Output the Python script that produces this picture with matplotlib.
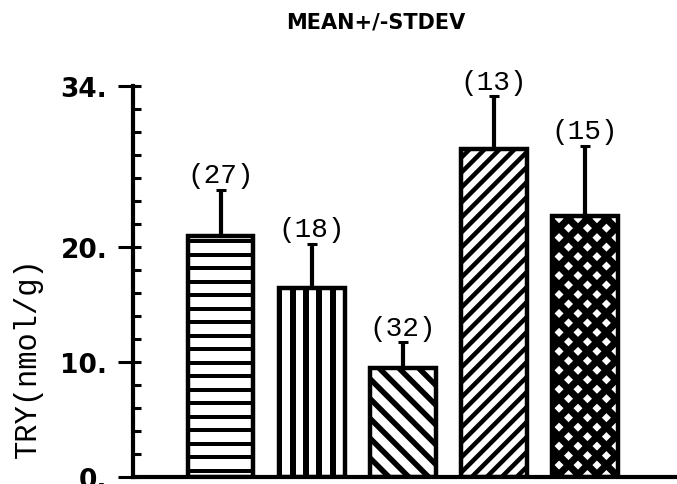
import numpy as np
import matplotlib
matplotlib.use("Agg")
import matplotlib.pyplot as plt
from matplotlib.collections import LineCollection
from matplotlib.transforms import IdentityTransform

# Group means, standard deviations and sample sizes
means = [21.0, 16.4, 9.5, 28.5, 22.7]
stdevs = [4.0, 3.9, 2.2, 4.6, 6.1]
counts = [27, 18, 32, 13, 15]

y_ticks = [0, 10, 20, 34]
y_tick_labels = ["0.", "10.", "20.", "34."]

DPI = 100
W, H = 677, 485

fig = plt.figure(figsize=(W / DPI, H / DPI), dpi=DPI)
ax = fig.add_axes([133 / W, 7 / H, 1 - 133 / W, (478 - 87) / H])

x = np.arange(len(means))
ax.set_xlim(-0.9615, 5.016)
ax.set_ylim(0, 34)

bars = ax.bar(x, means, width=0.725, facecolor="none", edgecolor="black",
              linewidth=3.2, zorder=3)

# Hatch styles per bar: (angles in degrees, spacing in px, line width in px)
hatch_styles = [
    ([0], 13.5, 4.0),
    ([90], 13.3, 6.0),
    ([-45], 14.0, 5.5),
    ([45], 10.6, 4.5),
    ([45, -45], 13.4, 7.0),
]


def hatch_patch(ax, patch, angles, spacing, lw):
    (x0, y0), (x1, y1) = ax.transData.transform(patch.get_bbox().get_points())
    corners = np.array([[x0, y0], [x1, y0], [x1, y1], [x0, y1]])
    centre = corners.mean(axis=0)
    length = np.hypot(x1 - x0, y1 - y0) + 20
    segs = []
    for a in angles:
        t = np.deg2rad(a)
        d = np.array([np.cos(t), np.sin(t)])
        n = np.array([-np.sin(t), np.cos(t)])
        proj = corners @ n
        k0 = np.floor(proj.min() / spacing) - 1
        k1 = np.ceil(proj.max() / spacing) + 1
        for k in np.arange(k0, k1 + 1):
            p = centre + (k * spacing - centre @ n) * n
            segs.append([p - length * d, p + length * d])
    lc = LineCollection(segs, colors="black", linewidths=lw * 72 / DPI,
                        transform=IdentityTransform(), zorder=2)
    ax.add_collection(lc, autolim=False)
    lc.set_clip_path(patch)


for bar, (angles, spacing, lw) in zip(bars, hatch_styles):
    hatch_patch(ax, bar, angles, spacing, lw)

# Upper error bars only
ax.errorbar(x, means, yerr=[np.zeros(len(means)), stdevs], fmt="none",
            ecolor="black", elinewidth=3.0, capsize=3.6, capthick=2.2, zorder=4)

for xi, m, s, n in zip(x, means, stdevs, counts):
    ax.annotate(f"({n})", (xi, m + s), xytext=(0, 1), textcoords="offset points",
                ha="center", va="bottom", fontfamily="Liberation Mono",
                fontsize=20, annotation_clip=False)

ax.set_yticks(y_ticks)
ax.set_yticklabels(y_tick_labels, fontfamily="DejaVu Sans",
                   fontweight="bold", fontsize=19)
ax.set_yticks(np.arange(0, 35, 2), minor=True)
ax.yaxis.remove_overlapping_locs = False
ax.tick_params(axis="y", which="major", direction="out", length=10.5,
               width=2.2, pad=8)
ax.tick_params(axis="y", which="minor", direction="in", length=5.5, width=2.2)
ax.set_xticks([])

for side in ("top", "right"):
    ax.spines[side].set_visible(False)
for side in ("left", "bottom"):
    ax.spines[side].set_linewidth(3)

fig.text(28 / W, 1 - 358 / H, "TRY(nmol/g)", rotation=90,
         fontfamily="Liberation Mono", fontsize=22, ha="center", va="center")
fig.text(376 / W, 1 - 22 / H, "MEAN+/-STDEV", fontfamily="DejaVu Sans",
         fontweight="bold", fontsize=15, ha="center", va="center")

fig.savefig("out.png", dpi=DPI)
